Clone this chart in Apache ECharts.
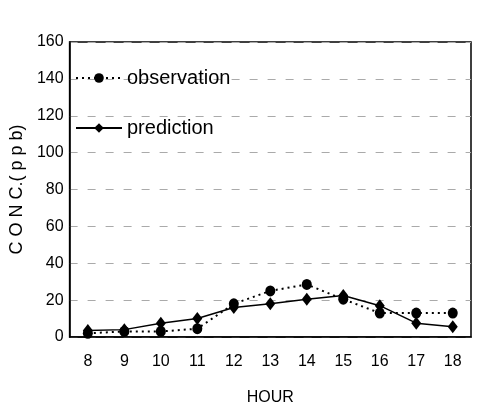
<!DOCTYPE html>
<html>
<head>
<meta charset="utf-8">
<script src="https://cdn.jsdelivr.net/npm/echarts@6/dist/echarts.min.js"></script>
<style>
  html, body { margin: 0; padding: 0; background: #fff; }
  #chart { width: 494px; height: 420px; }
</style>
</head>
<body>
<div id="chart"></div>
<script>
// 数据
const hours = ["8", "9", "10", "11", "12", "13", "14", "15", "16", "17", "18"];
const observation = [2, 3, 3, 4.5, 18, 25, 28.5, 20.5, 13, 13, 13];
const prediction = [3.5, 4, 7.5, 10, 16, 18, 20.5, 22.5, 17, 7.5, 5.5];
const yTicks = [0, 20, 40, 60, 80, 100, 120, 140, 160];

const myChart = echarts.init(document.getElementById("chart"));

const option = {
  backgroundColor: "#fff",
  animation: false,
  textStyle: { fontFamily: "Liberation Sans, Arial, sans-serif", color: "#000" },
  legend: {
    orient: "vertical",
    left: 70,
    top: 63,
    itemGap: 30,
    itemWidth: 46,
    itemHeight: 12,
    data: ["observation", "prediction"],
    textStyle: { fontSize: 20, color: "#000", padding: [0, 0, 0, 0] },
  },
  grid: {
    left: 68,
    right: 23,
    top: 42,
    bottom: 83,
    show: true,
    borderColor: "#000",
    borderWidth: 1.5,
  },
  xAxis: {
    type: "category",
    data: hours,
    boundaryGap: true,
    name: "HOUR",
    nameLocation: "middle",
    nameGap: 53,
    nameTextStyle: { fontSize: 16, color: "#000" },
    axisLine: { lineStyle: { color: "#000", width: 1.5 } },
    axisTick: { show: false },
    axisLabel: { fontSize: 16, color: "#000", margin: 17 },
  },
  yAxis: {
    type: "value",
    min: yTicks[0],
    max: yTicks[yTicks.length - 1],
    interval: 20,
    name: "C O N C.( p p b)",
    nameLocation: "middle",
    nameGap: 33,
    nameTextStyle: { fontSize: 18, color: "#000" },
    axisLine: { show: true, lineStyle: { color: "#000", width: 1.5 } },
    axisTick: { show: false },
    axisLabel: { fontSize: 16, color: "#000", margin: 6 },
    splitLine: {
      show: true,
      lineStyle: { color: "#aaa", type: [8, 10], width: 1 },
    },
  },
  series: [
    {
      name: "observation",
      type: "line",
      data: observation,
      symbol: "circle",
      symbolSize: [10, 11],
      lineStyle: { color: "#000", width: 2, type: [2, 4] },
      itemStyle: { color: "#000" },
    },
    {
      name: "prediction",
      type: "line",
      data: prediction,
      symbol: "diamond",
      symbolSize: [10, 13],
      lineStyle: { color: "#000", width: 1.5 },
      itemStyle: { color: "#000" },
    },
  ],
};

myChart.setOption(option);
</script>
</body>
</html>
